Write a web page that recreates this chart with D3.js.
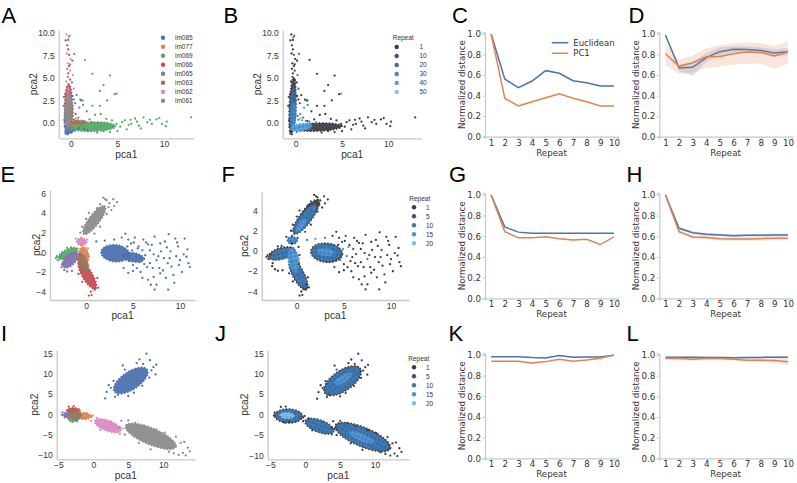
<!DOCTYPE html>
<html><head><meta charset="utf-8">
<script src="https://cdn.jsdelivr.net/npm/d3@7"></script>
<style>body{margin:0;background:#fff}svg{display:block}</style>
</head><body>
<script>
// ================= DATA =================
const animals = ["im085","im077","im069","im066","im065","im063","im062","im061"];
const animalColors = ["#4c72b0","#dd8452","#55a868","#c44e52","#8172b3","#937860","#da8bc3","#8c8c8c"];
const repeatsB = ["1","10","20","30","40","50"];
const repeatColorsB = ["#3d3d3d","#3a5376","#3c6c9f","#3f84c5","#56a0de","#8cc2ea"];
const repeatsFJ = ["1","5","10","15","20"];
const repeatColorsFJ = ["#3d3d3d","#3a5a80","#3c77b3","#4a93d3","#83bde8"];

const repeatX = [1,2,3,4,5,6,7,8,9,10];
const distTicks = [0,0.2,0.4,0.6,0.8,1.0];

// C
const cEuc = [1.0,0.562,0.477,0.542,0.643,0.617,0.545,0.526,0.494,0.494];
const cPc1 = [1.0,0.374,0.299,0.341,0.38,0.419,0.374,0.341,0.30,0.30];
// D
const dEuc   = [0.99,0.669,0.676,0.77,0.828,0.851,0.848,0.84,0.815,0.828];
const dEucLo = [0.97,0.64,0.59,0.73,0.79,0.82,0.82,0.81,0.78,0.79];
const dEucHi = [1.0,0.70,0.73,0.81,0.87,0.88,0.88,0.87,0.85,0.86];
const dPc1   = [0.808,0.685,0.72,0.779,0.782,0.808,0.825,0.82,0.786,0.825];
const dPc1Lo = [0.70,0.61,0.62,0.67,0.68,0.70,0.71,0.71,0.66,0.71];
const dPc1Hi = [0.91,0.75,0.79,0.86,0.89,0.91,0.92,0.91,0.88,0.93];
// G
const gEuc = [1.0,0.69,0.64,0.63,0.63,0.63,0.63,0.63,0.63,0.63];
const gPc1 = [1.0,0.645,0.585,0.585,0.595,0.575,0.565,0.57,0.52,0.595];
// H
const hEuc   = [1.0,0.677,0.635,0.619,0.613,0.606,0.61,0.61,0.613,0.613];
const hEucLo = [1.0,0.665,0.622,0.606,0.6,0.593,0.597,0.597,0.6,0.6];
const hEucHi = [1.0,0.69,0.648,0.632,0.626,0.619,0.623,0.623,0.626,0.626];
const hPc1   = [1.0,0.645,0.594,0.587,0.577,0.574,0.574,0.577,0.58,0.58];
const hPc1Lo = [1.0,0.63,0.578,0.57,0.56,0.556,0.556,0.559,0.562,0.561];
const hPc1Hi = [1.0,0.66,0.61,0.604,0.594,0.592,0.592,0.595,0.598,0.599];
// K
const kEuc = [0.983,0.983,0.983,0.975,0.972,0.995,0.978,0.98,0.98,0.998];
const kPc1 = [0.939,0.939,0.939,0.923,0.936,0.958,0.939,0.952,0.968,1.0];
// L
const lEuc   = [0.978,0.978,0.978,0.977,0.977,0.973,0.976,0.977,0.979,0.979];
const lEucLo = [0.97,0.97,0.97,0.969,0.969,0.965,0.968,0.969,0.971,0.97];
const lEucHi = [0.986,0.986,0.986,0.985,0.985,0.981,0.984,0.985,0.987,0.988];
const lPc1   = [0.968,0.965,0.958,0.965,0.965,0.96,0.95,0.95,0.947,0.935];
const lPc1Lo = [0.955,0.952,0.945,0.952,0.952,0.946,0.935,0.932,0.925,0.9];
const lPc1Hi = [0.981,0.978,0.971,0.978,0.978,0.974,0.965,0.968,0.969,0.97];

// scatter ticks
const abXTicks = [0,5,10], abYTicks = [0,2.5,5,7.5,10];
const eXTicks = [0,5,10], eYTicks = [-4,-2,0,2,4,6];
const fXTicks = [0,5,10], fYTicks = [-4,-2,0,2,4];
const ijXTicks = [-5,0,5,10], ijYTicks = [-10,-5,0,5,10,15];

// dense cluster cores: [group, x1, y1, x2, y2, widthRatio]  (major-axis end points in data units)
const abCoresAnimal = [
  [0,-0.6,-1.15,0.3,-0.5,0.55],
  [2,-0.3,-0.45,4.8,-0.35,0.2],
  [1,-0.2,-0.1,1.4,0.15,0.25],
  [3,-0.3,-0.7,-0.25,4.3,0.17],
  [4,-0.45,-0.9,-0.15,2.8,0.22],
  [6,-0.33,0.5,-0.28,3.9,0.12],
  [5,-0.3,-0.6,-0.05,2.5,0.26],
  [5,-0.1,0.05,1.6,0.1,0.22],
  [7,-0.35,-0.5,-0.2,3.5,0.19]
];
const abCoresRepeat = [
  [0,-0.5,-1.2,-0.2,5.0,0.11],
  [0,-0.4,-0.55,5.0,-0.35,0.16],
  [2,-0.4,-0.8,-0.2,3.8,0.15],
  [3,-0.35,-0.6,-0.2,2.2,0.2],
  [4,-0.6,-0.65,1.7,-0.3,0.32]
];
// scattered points: [x, y, animal, repeat]
const abPoints = [
  [-0.47,9.8,6,0],[-0.57,9.15,0,0],[-0.3,9.2,3,0],[-0.15,9.65,4,2],[-0.25,9.5,6,3],[-0.3,8.15,3,0],[-0.45,7.7,6,0],[-0.2,7.55,3,1],[0.35,7.65,2,2],[0.15,6.9,3,0],[-0.35,6.6,6,0],[-0.2,6.3,3,0],[-0.4,6.0,7,0],[-0.1,5.8,6,1],[-0.3,5.5,3,0],[0.2,5.3,6,3],[-0.35,5.1,7,2],[-0.1,4.8,3,0],[-0.5,4.6,6,0],[0.1,4.5,4,0],[-0.25,4.3,7,1],[-0.6,3.2,3,0],[-0.75,2.9,3,0],[-0.8,1.9,4,0],[0.3,3.8,6,2],[-0.05,7.1,6,0],[-0.4,8.6,3,0],[-0.1,6.5,4,0],
  [0.6,3.1,4,0],[1.0,2.6,4,0],[0.45,2.2,4,2],[1.7,1.3,4,0],[0.9,1.7,4,4],[0.3,2.6,4,0],[0.8,0.6,4,2],[1.3,0.2,4,0],[0.5,1.0,0,3],[2.0,0.4,4,0],[1.1,2.5,0,3],[0.15,3.0,0,0],
  [1.5,7.0,2,0],[2.3,5.45,2,0],[4.2,5.25,2,0],[3.1,3.55,2,0],[4.7,3.2,2,0],[3.5,4.2,2,0],[1.25,2.5,2,0],[1.3,2.0,2,3],[2.3,1.9,2,0],[3.1,1.9,2,0],[3.9,2.5,2,0],[3.2,1.0,2,0],[2.6,0.9,2,0],[4.9,3.25,2,4],
  [4.9,-0.1,2,0],[5.3,-0.4,2,0],[5.8,0.3,2,0],[6.2,-0.2,2,0],[6.5,-0.1,2,0],[6.9,0.5,2,0],[7.1,0.15,2,0],[7.5,-0.6,2,0],[7.8,0.63,2,0],[8.2,0.1,2,0],[8.7,-0.1,2,0],[9.2,0.4,2,0],[9.5,0.55,2,0],[9.8,-0.1,2,0],[10.3,0.15,2,0],[10.2,-0.35,2,0],[12.9,0.63,2,0],[6.0,-0.7,2,0],[5.5,0.1,2,0],[4.4,0.3,2,0],[3.8,0.45,2,0],[8.5,0.35,2,0],[7.3,-0.3,2,0],[5.0,-0.9,2,0],[4.2,-1.0,2,0],[3.5,-0.9,2,0],[2.8,-1.05,2,1],[6.4,0.35,2,0],
  [-0.55,-1.15,0,0],[-0.6,-0.9,0,0],[-0.4,-1.25,0,1],[-0.65,-0.4,0,0],[-0.7,0.3,0,0],[0.1,-1.0,0,3],[0.4,-0.85,0,4],[0.8,-0.6,0,4],[1.4,-0.65,0,3],[1.8,-0.75,0,2],
  [0.3,0.35,5,3],[0.7,0.3,5,4],[1.1,0.25,1,3],[1.5,0.15,5,4],[0.5,0.5,1,5],[0.2,0.8,5,2],[2.2,0.1,5,4]
];

const efCoresAnimal = [
  [0,1.6,0.05,4.6,-0.25,0.6],
  [0,3.8,-0.3,6.2,-0.7,0.4],
  [1,-0.35,0.55,-0.15,-1.3,0.55],
  [2,-2.95,-0.6,-0.9,0.35,0.4],
  [3,-0.7,-1.0,1.0,-3.7,0.33],
  [4,-2.4,-1.5,-1.0,-0.1,0.55],
  [5,-0.8,-0.1,0.1,-1.9,0.45],
  [6,-1.0,1.15,0.05,1.0,0.75],
  [7,-0.25,1.85,2.0,4.7,0.3]
];
const efCoresRepeat = [
  [0,-0.3,1.7,2.3,5.05,0.29],
  [2,-0.2,1.8,1.95,4.5,0.3],
  [3,0.0,2.0,0.9,3.1,0.4],
  [2,-1.0,1.1,0.05,1.0,0.78],
  [3,-0.7,1.1,-0.2,1.05,0.7],
  [0,-3.0,-0.6,-0.2,0.12,0.41],
  [0,-0.68,-0.8,1.02,-3.82,0.33],
  [2,-2.85,-0.6,-0.25,0.05,0.4],
  [2,-0.62,-0.85,0.9,-3.6,0.32],
  [3,-0.55,0.3,-0.1,-2.0,0.45],
  [0,1.5,0.0,4.85,-0.35,0.6],
  [2,1.58,0.0,4.7,-0.28,0.58],
  [3,2.2,0.0,3.9,-0.2,0.45]
];
const efPoints = [
  [2.2,5.3,7,0],[2.5,5.0,7,0],[2.9,5.4,7,0],[1.85,5.55,7,0],[2.05,5.4,7,0],[2.4,4.6,7,0],[2.7,4.3,7,0],[1.5,4.9,7,1],[1.2,4.5,7,0],[3.3,5.1,7,0],[0.3,4.0,7,0],[0.0,3.4,7,0],[1.7,3.6,7,2],[2.2,3.9,7,0],[-0.4,2.6,7,0],[1.5,2.6,7,0],[-0.6,2.0,7,0],[0.9,1.9,7,1],[3.0,4.7,7,0],[1.9,4.2,7,3],
  [0.3,-4.4,3,0],[0.6,-4.35,3,0],[1.0,-3.3,3,0],[0.9,-3.8,3,0],[-0.4,-3.0,3,0],[1.2,-2.6,3,0],[0.5,-4.0,3,0],[-0.8,-2.2,3,0],[1.3,-3.6,3,0],
  [-3.2,-0.6,2,0],[-3.0,-0.8,2,0],[-2.7,-0.35,2,0],[-2.0,0.45,2,0],[-1.6,0.5,2,0],[-3.1,-0.4,2,1],
  [-2.6,-1.5,4,0],[-2.3,-1.8,4,0],[-2.0,-1.95,4,0],[-2.55,-1.2,4,0],[-1.5,-1.9,4,0],
  [0.2,0.4,1,0],[0.3,-0.4,1,0],[0.25,-1.3,1,0],[-0.5,0.75,1,0],
  [-1.1,1.4,6,0],[0.1,1.3,6,0],[-0.5,1.5,6,1],
  [1.1,1.1,0,2],[4.2,1.9,0,0],[4.5,1.3,0,0],[4.8,0.9,0,1],[5.2,1.5,0,0],[5.6,0.6,0,0],[5.0,-1.3,0,0],[5.3,-0.5,0,2],[5.7,-1.0,0,0],[6.1,1.3,0,0],[6.0,0.2,0,1],[6.3,-0.3,0,0],[6.5,-1.5,0,0],[6.8,-1.1,0,0],[6.6,0.8,0,0],[7.0,0.75,0,0],[7.2,-0.2,0,0],[7.5,-0.8,0,2],[7.3,1.6,0,0],[7.9,0.9,0,0],[7.8,-1.6,0,0],[8.0,0.1,0,0],[8.2,-1.85,0,0],[8.3,-0.6,0,0],[8.6,0.5,0,0],[8.8,1.85,0,0],[8.7,-1.1,0,0],[9.1,-1.45,0,0],[9.0,0.1,0,1],[9.3,-2.3,0,0],[9.5,1.4,0,0],[9.6,-0.4,0,0],[9.8,0.6,0,0],[10.0,-0.8,0,0],[10.2,-2.0,0,0],[10.5,1.4,0,0],[10.4,-0.2,0,0],[10.7,-0.45,0,0],[10.9,-1.1,0,0],[11.05,-1.5,0,0],[10.8,0.3,0,0],[7.9,-2.15,0,0],[6.6,-2.8,0,0],[7.5,-3.3,0,0],[8.75,-3.8,0,0],[7.2,-2.5,0,0],[5.8,-2.0,0,0],[6.0,-2.6,0,0],[4.5,-2.1,0,0],[4.0,-1.6,0,1],[5.5,0.4,0,3],[6.4,1.0,0,0],[8.4,1.1,0,0],[9.4,-3.1,0,0],[9.9,-1.3,0,0],[3.0,1.3,0,2],[2.0,1.2,0,3],[3.8,1.5,0,0],[5.0,-1.9,0,0],[6.9,-3.3,0,0],[7.3,-3.8,0,0],[4.9,0.2,0,3],[5.9,-0.6,0,0],[6.8,0.2,0,0],[7.7,-0.4,0,0],[8.9,-0.6,0,0],[9.7,1.0,0,0],[5.4,-1.6,0,0],[4.6,-0.9,0,2],[4.4,0.6,0,0],[5.1,1.0,0,0],[6.2,-1.2,0,0],[7.1,-1.6,0,0],[8.5,-2.6,0,0]
];

const ijCoresAnimal = [
  [0,3.0,5.6,7.7,11.0,0.45],
  [1,-2.2,-0.4,-0.4,-0.45,0.55],
  [2,-3.6,-1.2,-2.1,-1.2,0.45],
  [3,-3.8,0.9,-1.9,0.9,0.45],
  [4,-4.3,-0.2,-3.4,-0.2,0.9],
  [5,-3.6,-0.2,-1.7,-0.2,0.65],
  [6,0.2,-1.6,3.9,-4.0,0.38],
  [7,4.6,-2.8,11.8,-8.0,0.3]
];
const ijCoresRepeat = [
  [0,2.8,5.3,7.9,11.3,0.47],
  [2,2.95,5.5,7.7,11.1,0.45],
  [3,4.3,7.5,6.6,10.0,0.35],
  [0,-4.4,-0.2,-0.4,-0.4,0.5],
  [2,-4.25,-0.2,-0.6,-0.38,0.48],
  [4,-3.6,-0.1,-1.6,-0.3,0.4],
  [0,0.0,-1.5,4.1,-4.1,0.4],
  [2,0.1,-1.6,4.0,-4.0,0.38],
  [0,4.3,-2.6,12.2,-8.3,0.32],
  [2,4.55,-2.8,11.9,-8.1,0.31],
  [3,6.3,-4.3,9.8,-6.7,0.25]
];
const ijPoints = [
  [7.6,14.9,0,0],[7.1,12.4,0,1],[8.3,10.8,0,0],[1.9,5.5,0,0],[1.7,3.9,0,0],[3.1,4.3,0,0],[6.2,12.6,0,0],[8.1,13.3,0,0],[8.6,11.6,0,0],[2.5,6.5,0,0],[4.5,11.0,0,2],[8.0,9.0,0,0],[3.5,4.8,0,0],[5.0,4.5,0,0],[9.0,12.2,0,0],[2.2,7.2,0,0],[7.0,7.0,0,1],[4.2,12.0,0,0],[6.6,13.5,0,0],[2.9,8.2,0,0],[8.9,9.8,0,0],[5.8,5.3,0,0],
  [13.5,-8.2,7,0],[13.8,-9.1,7,0],[12.8,-9.5,7,0],[12.5,-7.0,7,0],[11.5,-9.6,7,0],[4.0,-1.6,7,0],[5.0,-1.5,7,1],[3.8,-3.2,7,0],[10.2,-4.5,7,0],[9.0,-3.8,7,0],[6.5,-7.0,7,0],[13.0,-6.8,7,0],[12.2,-10.0,7,0],[7.2,-2.8,7,0],[4.5,-5.0,7,0],[11.8,-5.5,7,0],[10.8,-9.2,7,0],[13.2,-10.1,7,0],[8.2,-8.6,7,0],[6.0,-2.1,7,0],
  [-0.3,-1.6,6,0],[4.2,-3.5,6,0],[3.8,-4.8,6,0],[0.5,-0.9,6,0],[2.5,-1.8,6,1],[1.0,-3.8,6,0],
  [-0.3,-0.7,1,0],[-0.1,-0.3,1,0],[-4.5,-0.2,4,0],[-4.4,0.5,4,0],[-2.8,2.0,3,0],[-3.5,1.9,3,0],[-3.0,-1.9,2,0],[-2.3,-1.7,2,0]
];

// ================= DRAWING =================
const SANS = "'Liberation Sans', Arial, sans-serif";
const DEJA = "'DejaVu Sans', sans-serif";
const AXIS = "#c8c8c8";
const BLUE = "#4c72b0", ORANGE = "#dd8452";
const DARK = "#333333";

const svg = d3.select("body").append("svg").attr("width",797).attr("height",483);
const defs = svg.append("defs");

// speckle textures for the repeat-coloured cluster cores
function speckle(id, base, c1, c2){
  const p = defs.append("pattern").attr("id",id).attr("patternUnits","userSpaceOnUse")
    .attr("width",4.2).attr("height",4.2);
  p.append("rect").attr("width",4.2).attr("height",4.2).attr("fill",base);
  p.append("circle").attr("cx",1).attr("cy",1).attr("r",0.6).attr("fill",c1).attr("fill-opacity",0.7);
  p.append("circle").attr("cx",3.1).attr("cy",3.2).attr("r",0.65).attr("fill",c2).attr("fill-opacity",0.85);
  return `url(#${id})`;
}
const fillB = repeatColorsB.map((c,i)=>speckle("spB"+i, c, i===0?repeatColorsB[2]:DARK, repeatColorsB[Math.min(i+1,5)]));
const fillFJ = repeatColorsFJ.map((c,i)=>speckle("spF"+i, c, i===0?repeatColorsFJ[2]:DARK, repeatColorsFJ[Math.min(i+1,4)]));

function letter(t, x, y){
  svg.append("text").attr("x",x).attr("y",y).attr("font-family",SANS).attr("font-size",22).attr("fill","#000").text(t);
}

function scatterPanel(o){
  const [l,t,r,b] = o.box;
  const x = d3.scaleLinear().domain(o.xd).range([l,r]);
  const y = d3.scaleLinear().domain(o.yd).range([b,t]);
  const g = svg.append("g");
  const xa = g.append("g").attr("transform",`translate(0,${b})`)
    .call(d3.axisBottom(x).tickValues(o.xt).tickSize(0).tickPadding(3).tickFormat(d3.format("d")));
  const ya = g.append("g").attr("transform",`translate(${l},0)`)
    .call(d3.axisLeft(y).tickValues(o.yt).tickSize(0).tickPadding(4).tickFormat(d3.format(o.yf)));
  [xa,ya].forEach(a=>{
    a.select(".domain").attr("stroke",AXIS).attr("stroke-width",1.3);
    a.selectAll("text").attr("font-family",SANS).attr("font-size",8.5).attr("fill","#333");
  });
  const cg = g.append("g");
  o.cores.forEach(c=>{
    const [k,x1,y1,x2,y2,ratio] = c;
    const px1=x(x1), py1=y(y1), px2=x(x2), py2=y(y2);
    const cx=(px1+px2)/2, cy=(py1+py2)/2;
    const a = Math.hypot(px2-px1, py2-py1)/2;
    const ang = Math.atan2(py2-py1, px2-px1)*180/Math.PI;
    cg.append("ellipse").attr("cx",cx).attr("cy",cy).attr("rx",a).attr("ry",Math.max(a*ratio,1.5))
      .attr("transform",`rotate(${ang},${cx},${cy})`)
      .attr("fill",o.coreFill(k)).attr("fill-opacity",0.95)
      .attr("stroke",o.coreColor(k)).attr("stroke-width",1.8).attr("stroke-dasharray","0 3.2")
      .attr("stroke-linecap","round");
  });
  g.append("g").selectAll("circle").data(o.pts).join("circle")
    .attr("cx",d=>x(d[0])).attr("cy",d=>y(d[1])).attr("r",1.15)
    .attr("fill",d=>o.ptColor(d));
  g.append("text").attr("x",(l+r)/2).attr("y",o.xlabY).attr("text-anchor","middle")
    .attr("font-family",SANS).attr("font-size",10.2).attr("fill","#333").text("pca1");
  g.append("text").attr("transform",`translate(${o.ylabX},${(t+b)/2}) rotate(-90)`).attr("text-anchor","middle")
    .attr("font-family",SANS).attr("font-size",10.2).attr("fill","#333").text("pca2");
}

function catLegend(labels, colors, x, y0, step, title){
  const g = svg.append("g").attr("font-family",SANS).attr("font-size",6.5).attr("fill","#333");
  let y = y0;
  if(title){
    g.append("text").attr("x",title.x).attr("y",y0).attr("dy","0.35em").text(title.text);
    y = y0 + step;
  }
  labels.forEach((lab,i)=>{
    g.append("circle").attr("cx",x.dot).attr("cy",y+i*step).attr("r",2.2).attr("fill",colors[i]);
    g.append("text").attr("x",x.text).attr("y",y+i*step).attr("dy","0.35em").text(lab);
  });
}

function linePanel(o){
  const [l,t,r,b] = o.box;
  const x = d3.scaleLinear().domain([0.55,10.3]).range([l,r]);
  const y = d3.scaleLinear().domain([0,1.0165]).range([b,t]);
  const g = svg.append("g");
  const xa = g.append("g").attr("transform",`translate(0,${b})`)
    .call(d3.axisBottom(x).tickValues(repeatX).tickSize(2.5).tickPadding(0.5).tickFormat(d3.format("d")));
  const ya = g.append("g").attr("transform",`translate(${l},0)`)
    .call(d3.axisLeft(y).tickValues(distTicks).tickSize(2.5).tickPadding(1.5).tickFormat(d3.format(".1f")));
  [xa,ya].forEach(a=>{
    a.select(".domain").attr("stroke",AXIS).attr("stroke-width",1.2);
    a.selectAll(".tick line").attr("stroke",AXIS).attr("stroke-width",1);
    a.selectAll("text").attr("font-family",DEJA).attr("font-size",8.7).attr("fill","#333");
  });
  o.series.forEach(s=>{
    if(s.lo){
      const area = d3.area().x((d,i)=>x(repeatX[i])).y0((d,i)=>y(s.lo[i])).y1((d,i)=>y(s.hi[i]));
      g.append("path").datum(s.vals).attr("d",area).attr("fill",s.color).attr("fill-opacity",0.2).attr("stroke","none");
    }
    const line = d3.line().x((d,i)=>x(repeatX[i])).y(d=>y(d));
    g.append("path").datum(s.vals).attr("d",line).attr("fill","none").attr("stroke",s.color).attr("stroke-width",1.5);
  });
  g.append("text").attr("x",(l+r)/2).attr("y",o.xlabY).attr("text-anchor","middle")
    .attr("font-family",DEJA).attr("font-size",8.7).attr("fill","#333").text("Repeat");
  g.append("text").attr("transform",`translate(${l-20.5},${(t+b)/2}) rotate(-90)`).attr("text-anchor","middle")
    .attr("font-family",DEJA).attr("font-size",8.7).attr("fill","#333").text("Normalized distance");
  if(o.legend){
    const lg = g.append("g").attr("font-family",DEJA).attr("font-size",8.5).attr("fill","#333");
    o.series.forEach((s,i)=>{
      const yy = o.legend.y + i*o.legend.step;
      lg.append("line").attr("x1",o.legend.x).attr("x2",o.legend.x+16.6).attr("y1",yy).attr("y2",yy)
        .attr("stroke",s.color).attr("stroke-width",1.5);
      lg.append("text").attr("x",o.legend.x+21.6).attr("y",yy).attr("dy","0.35em").text(s.name);
    });
  }
}

const byAnimal = d => animalColors[d[2]];
const animalCore = k => animalColors[k];

// Row 1
scatterPanel({box:[58.7,30,194,138.3], xd:[-1.32,13.23], yd:[-1.69,10.3], xt:abXTicks, yt:abYTicks, yf:".1f",
  cores:abCoresAnimal, coreColor:animalCore, coreFill:animalCore, pts:abPoints, ptColor:byAnimal, xlabY:158, ylabX:36.5});
catLegend(animals, animalColors, {dot:163,text:175}, 37.7, 9);
scatterPanel({box:[282.7,30,421.7,138.3], xd:[-1.4,13.6], yd:[-1.69,10.3], xt:abXTicks, yt:abYTicks, yf:".1f",
  cores:abCoresRepeat, coreColor:k=>repeatColorsB[k], coreFill:k=>fillB[k], pts:abPoints, ptColor:d=>repeatColorsB[d[3]], xlabY:158, ylabX:261});
catLegend(repeatsB, repeatColorsB, {dot:396.7,text:419.5}, 38, 9, {x:392.7,text:"Repeat"});
linePanel({box:[485,32.3,618,136.7], xlabY:155.8,
  series:[{name:"Euclidean",vals:cEuc,color:BLUE},{name:"PC1",vals:cPc1,color:ORANGE}],
  legend:{x:551.7,y:42.7,step:10.6}});
linePanel({box:[659.3,32.3,792,136.7], xlabY:155.8,
  series:[{vals:dEuc,lo:dEucLo,hi:dEucHi,color:BLUE},{vals:dPc1,lo:dPc1Lo,hi:dPc1Hi,color:ORANGE}]});

// Row 2
scatterPanel({box:[50,190,195,300], xd:[-3.83,11.6], yd:[-4.85,6.34], xt:eXTicks, yt:eYTicks, yf:"d",
  cores:efCoresAnimal, coreColor:animalCore, coreFill:animalCore, pts:efPoints, ptColor:byAnimal, xlabY:319, ylabX:40});
scatterPanel({box:[261.7,191.7,409,300], xd:[-3.71,11.91], yd:[-4.84,5.86], xt:fXTicks, yt:fYTicks, yf:"d",
  cores:efCoresRepeat, coreColor:k=>repeatColorsFJ[k], coreFill:k=>fillFJ[k], pts:efPoints, ptColor:d=>repeatColorsFJ[Math.min(d[3],4)], xlabY:319, ylabX:248});
catLegend(repeatsFJ, repeatColorsFJ, {dot:414,text:426}, 198.3, 9, {x:409.3,text:"Repeat"});
linePanel({box:[485,193.2,618,298.3], xlabY:317.3,
  series:[{vals:gEuc,color:BLUE},{vals:gPc1,color:ORANGE}]});
linePanel({box:[659.3,193.2,792,298.3], xlabY:317.3,
  series:[{vals:hEuc,lo:hEucLo,hi:hEucHi,color:BLUE},{vals:hPc1,lo:hPc1Lo,hi:hPc1Hi,color:ORANGE}]});

// Row 3
scatterPanel({box:[56.7,350,195,459.3], xd:[-5.23,14.53], yd:[-11.06,15.81], xt:ijXTicks, yt:ijYTicks, yf:"d",
  cores:ijCoresAnimal, coreColor:animalCore, coreFill:animalCore, pts:ijPoints, ptColor:byAnimal, xlabY:479, ylabX:38});
scatterPanel({box:[267.7,350,409,459.3], xd:[-5.39,14.88], yd:[-10.9,15.82], xt:ijXTicks, yt:ijYTicks, yf:"d",
  cores:ijCoresRepeat, coreColor:k=>repeatColorsFJ[k], coreFill:k=>fillFJ[k], pts:ijPoints, ptColor:d=>repeatColorsFJ[Math.min(d[3],4)], xlabY:479, ylabX:248});
catLegend(repeatsFJ, repeatColorsFJ, {dot:414,text:426}, 358.3, 9, {x:408.3,text:"Repeat"});
linePanel({box:[485,353.3,618,458.3], xlabY:476.5,
  series:[{vals:kEuc,color:BLUE},{vals:kPc1,color:ORANGE}]});
linePanel({box:[659.3,353.3,792,458.3], xlabY:476.5,
  series:[{vals:lEuc,lo:lEucLo,hi:lEucHi,color:BLUE},{vals:lPc1,lo:lPc1Lo,hi:lPc1Hi,color:ORANGE}]});

// panel letters
[["A",1.5,23.3],["B",223.5,23.3],["C",452,23.3],["D",628.5,23.3],
 ["E",0.5,181.7],["F",221.5,181.7],["G",449,181.7],["H",626.5,181.7],
 ["I",1,341],["J",215,341],["K",448.5,341],["L",626.5,341]].forEach(d=>letter(d[0],d[1],d[2]));
</script>
</body></html>
